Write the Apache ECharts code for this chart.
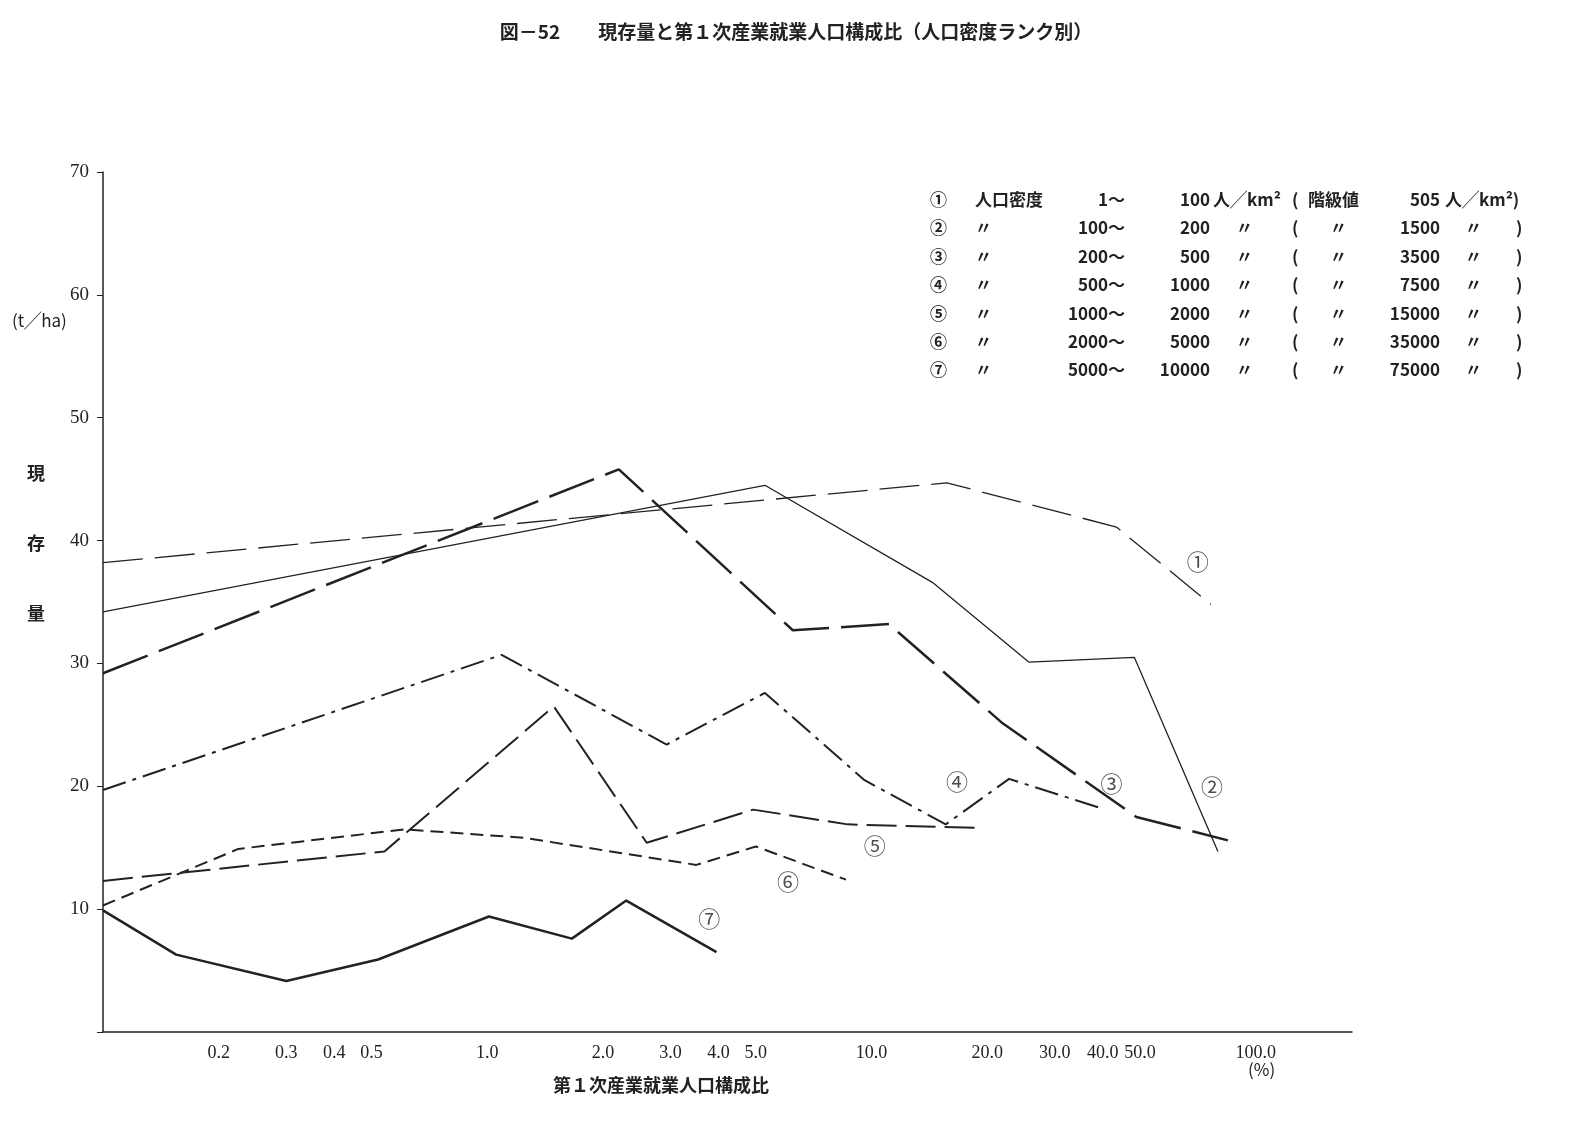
<!DOCTYPE html>
<html><head><meta charset="utf-8">
<script src="https://cdn.jsdelivr.net/npm/echarts@6/dist/echarts.min.js"></script>
<style>html,body{margin:0;background:#fff}#c{width:1592px;height:1143px}</style>
</head><body><div id="c"></div>
<script>
const xTicks=[0.2,0.3,0.4,0.5,1,2,3,4,5,10,20,30,40,50,100];
const yTicks=[10,20,30,40,50,60,70];
const s1=[[0.1,38.2],[15.7,44.7],[43.4,41.1],[76.4,34.8]];
const s2=[[0.1,34.2],[5.28,44.5],[14.4,36.6],[25.7,30.1],[48.3,30.5],[79.7,14.7]];
const s3=[[0.1,29.2],[2.2,45.8],[6.24,32.7],[11.1,33.2],[21.8,25.2],[48.9,17.5],[84.6,15.6]];
const s4=[[0.1,19.7],[1.09,30.7],[2.93,23.4],[5.28,27.6],[9.59,20.5],[15.6,16.9],[22.8,20.6],[39.7,18.2]];
const s5=[[0.1,12.3],[0.54,14.7],[1.49,26.5],[2.6,15.4],[4.92,18.1],[8.67,16.9],[19.4,16.6]];
const s6=[[0.1,10.3],[0.225,14.9],[0.61,16.5],[1.25,15.8],[3.5,13.6],[5.0,15.1],[8.58,12.4]];
const s7=[[0.1,9.9],[0.155,6.3],[0.30,4.15],[0.52,5.9],[1.01,9.4],[1.66,7.6],[2.3,10.7],[3.95,6.5]];
const markLabels=[['①',70.6,38.3],['②',76.9,19.95],['③',42.1,20.2],['④',16.7,20.4],['⑤',10.2,15.2],['⑥',6.06,12.2],['⑦',3.78,9.2]];
const legendRows=[
 ['①','人口密度','1〜','100','人╱km²','(','階級値','505','人╱km²)'],
 ['②','〃','100〜','200','〃','(','〃','1500','〃　　)'],
 ['③','〃','200〜','500','〃','(','〃','3500','〃　　)'],
 ['④','〃','500〜','1000','〃','(','〃','7500','〃　　)'],
 ['⑤','〃','1000〜','2000','〃','(','〃','15000','〃　　)'],
 ['⑥','〃','2000〜','5000','〃','(','〃','35000','〃　　)'],
 ['⑦','〃','5000〜','10000','〃','(','〃','75000','〃　　)']];
const F='"Noto Sans CJK JP", serif';
const C='#222';
function ln(d,w,dash){return {type:'line',data:d,symbol:'none',lineStyle:{color:C,width:w,type:dash},silent:true};}
const graphics=[];
graphics.push({type:'text',left:'center',top:22,style:{text:'図－52　　現存量と第１次産業就業人口構成比（人口密度ランク別）',font:'bold 19px '+F,fill:C}});
graphics.push({type:'text',x:12,y:312,style:{text:'(t╱ha)',font:'17px '+F,fill:C}});
['現','存','量'].forEach((t,i)=>graphics.push({type:'text',x:27,y:464+i*70,style:{text:t,font:'bold 18px '+F,fill:C}}));
graphics.push({type:'text',x:553,y:1076,style:{text:'第１次産業就業人口構成比',font:'bold 18px '+F,fill:C}});
graphics.push({type:'text',x:1248,y:1061,style:{text:'(%)',font:'17px '+F,fill:C}});
const cols=[[930,'left'],[975,'left'],[1125,'right'],[1210,'right'],[1213,'left'],[1292,'left'],[1308,'left'],[1440,'right'],[1445,'left']];
legendRows.forEach((r,i)=>{r.forEach((t,j)=>{
 let x=cols[j][0]; if(j===4&&i>0)x=1236; if(j===6&&i>0)x=1330; if(j===8&&i>0)x=1465;
 graphics.push({type:'text',x:x,y:191+i*28.4,style:{text:t,font:'bold 17px '+F,fill:C,align:cols[j][1]}});
});});
const chart=echarts.init(document.getElementById('c'));
chart.setOption({
 animation:false,backgroundColor:'#fff',
 grid:{left:103,top:172,right:240,bottom:111},
 xAxis:{type:'log',logBase:10,min:0.1,max:178,
  axisLine:{lineStyle:{color:C,width:1.5}},axisTick:{show:false},splitLine:{show:false},minorTick:{show:false},
  axisLabel:{customValues:xTicks,color:C,fontSize:18,fontFamily:'Liberation Serif',margin:12,formatter:v=>(+v).toFixed(1)}},
 yAxis:{type:'value',min:0,max:70,interval:10,
  axisLine:{show:true,lineStyle:{color:C,width:1.5}},axisTick:{show:true,length:6,lineStyle:{color:C}},splitLine:{show:false},
  axisLabel:{color:C,fontSize:19,fontFamily:'Liberation Serif',margin:14,formatter:v=>v===0?'':v}},
 graphic:graphics,
 series:[
  ln(s1,1.3,[40,12]),ln(s2,1.3,'solid'),ln(s3,2.5,[48,12]),ln(s4,2,[24,7,4,7]),ln(s5,2,[30,9]),ln(s6,2,[13,7]),ln(s7,2.5,'solid'),
  {type:'scatter',symbolSize:0,data:markLabels.map(m=>({value:[m[1],m[2]],name:m[0]})),silent:true,
   label:{show:true,position:'inside',formatter:p=>p.name,fontSize:22,color:C,fontFamily:F}}
 ]
});
</script></body></html>
